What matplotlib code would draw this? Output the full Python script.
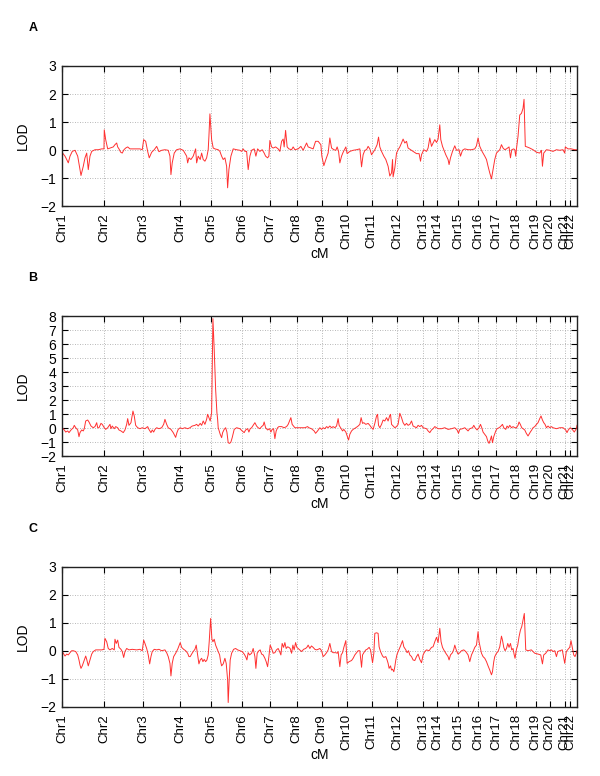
import matplotlib
matplotlib.use('Agg')
import matplotlib.pyplot as plt

# chromosome start positions along the genome (cM)
chr_names = ['Chr%d' % i for i in range(1, 23)]
chr_start = [0, 294, 569, 826, 1043, 1260, 1456, 1643, 1820, 1993, 2168,
             2347, 2529, 2627, 2774, 2914, 3043, 3183, 3318, 3416, 3521, 3561]
genome_end = 3607

# (genome cM, LOD)
lod_a = [(0, -0.08), (21, -0.22), (33, -0.34), (44, -0.46), (56, -0.22), (72, -0.05),
         (91, -0.01), (110, -0.22), (126, -0.70), (133, -0.91), (149, -0.58), (161, -0.28),
         (173, -0.11), (184, -0.70), (196, -0.22), (208, -0.05), (231, 0.01), (254, 0.01),
         (278, 0.04), (294, 0.04), (296, 0.72), (306, 0.37), (320, 0.04), (336, 0.07),
         (359, 0.11), (371, 0.19), (383, 0.25), (390, 0.11), (399, 0.04), (411, -0.08),
         (422, -0.11), (434, 0.01), (446, 0.07), (460, 0.11), (476, 0.04), (511, 0.04),
         (546, 0.04), (562, 0.01), (572, 0.37), (586, 0.31), (600, -0.05), (611, -0.28),
         (628, -0.08), (646, 0.01), (663, 0.13), (679, -0.06), (698, -0.01), (721, 0.01),
         (744, -0.01), (756, -0.22), (763, -0.88), (772, -0.46), (786, -0.11), (803, 0.01),
         (826, 0.04), (849, -0.01), (873, -0.22), (880, -0.46), (889, -0.28), (903, -0.34),
         (919, -0.22), (936, 0.04), (943, -0.46), (954, -0.22), (968, -0.34), (978, -0.11),
         (989, -0.34), (1001, -0.40), (1013, -0.28), (1024, 0.01), (1029, 0.49), (1036, 1.29),
         (1048, 0.37), (1059, 0.07), (1071, 0.04), (1094, 0.01), (1106, -0.05), (1118, -0.22),
         (1129, -0.34), (1141, -0.28), (1153, -0.58), (1160, -1.35), (1169, -0.70), (1183, -0.22),
         (1199, 0.04), (1223, 0.01), (1246, -0.01), (1258, -0.05), (1269, 0.04), (1281, -0.05),
         (1293, -0.05), (1304, -0.70), (1316, -0.22), (1328, -0.01), (1346, 0.04), (1358, -0.22),
         (1370, 0.04), (1386, -0.05), (1402, 0.01), (1416, -0.11), (1426, -0.22), (1440, -0.28),
         (1449, -0.22), (1456, 0.34), (1468, 0.11), (1479, 0.07), (1496, 0.11), (1514, 0.04),
         (1526, -0.05), (1538, 0.31), (1549, 0.39), (1556, 0.11), (1566, 0.70), (1577, 0.11),
         (1589, 0.04), (1608, 0.01), (1619, 0.11), (1631, 0.01), (1654, 0.04), (1673, 0.13),
         (1689, -0.01), (1713, 0.25), (1724, 0.11), (1743, 0.07), (1759, 0.04), (1776, 0.31),
         (1794, 0.31), (1813, 0.19), (1820, -0.22), (1834, -0.56), (1848, -0.34), (1864, -0.11),
         (1876, 0.43), (1888, 0.07), (1904, 0.01), (1918, -0.01), (1927, 0.11), (1937, -0.05),
         (1946, -0.46), (1958, -0.22), (1969, -0.08), (1988, 0.11), (1997, -0.13), (2016, -0.05),
         (2039, -0.01), (2063, 0.01), (2086, 0.04), (2098, -0.60), (2109, -0.17), (2121, -0.01),
         (2133, 0.01), (2144, 0.13), (2156, 0.04), (2168, -0.17), (2191, 0.01), (2207, 0.19),
         (2217, 0.46), (2226, 0.11), (2238, -0.05), (2254, -0.22), (2268, -0.34), (2284, -0.58),
         (2296, -0.93), (2308, -0.82), (2315, -0.34), (2319, -0.96), (2331, -0.64), (2343, -0.11),
         (2354, 0.01), (2366, 0.11), (2378, 0.25), (2389, 0.39), (2401, 0.25), (2413, 0.31),
         (2424, 0.07), (2441, 0.01), (2459, -0.05), (2483, -0.13), (2501, -0.13), (2511, -0.40),
         (2518, -0.17), (2534, 0.01), (2553, -0.05), (2564, 0.07), (2576, 0.43), (2588, 0.13),
         (2599, 0.25), (2611, 0.37), (2623, 0.27), (2634, 0.39), (2646, 0.90), (2653, 0.37),
         (2665, 0.13), (2674, 0.01), (2688, -0.17), (2704, -0.34), (2711, -0.52), (2721, -0.28),
         (2735, -0.05), (2751, 0.15), (2763, -0.01), (2781, 0.01), (2791, -0.22), (2805, -0.01),
         (2821, 0.04), (2844, 0.01), (2868, 0.01), (2891, 0.04), (2903, 0.15), (2914, 0.43),
         (2926, 0.13), (2942, -0.05), (2961, -0.22), (2973, -0.34), (2984, -0.58), (2996, -0.82),
         (3008, -1.03), (3019, -0.70), (3031, -0.34), (3043, -0.11), (3066, 0.01), (3078, 0.19),
         (3089, 0.07), (3101, 0.01), (3113, 0.04), (3131, 0.11), (3141, -0.28), (3150, 0.01),
         (3164, 0.04), (3171, 0.01), (3178, -0.22), (3183, 0.04), (3194, 0.49), (3206, 1.25),
         (3218, 1.31), (3229, 1.49), (3236, 1.81), (3245, 0.13), (3257, 0.11), (3276, 0.07),
         (3299, 0.01), (3323, -0.08), (3346, -0.11), (3358, -0.01), (3365, -0.58), (3374, -0.11),
         (3393, 0.01), (3416, -0.01), (3439, -0.05), (3463, 0.01), (3486, -0.01), (3509, 0.01),
         (3521, -0.11), (3525, 0.11), (3544, 0.04), (3567, 0.04), (3591, 0.01), (3607, 0.01)]

lod_b = [(2, 0.02), (16, -0.14), (26, -0.29), (40, -0.21), (49, -0.33), (63, -0.14),
         (79, 0.02), (86, 0.19), (96, 0.02), (110, -0.14), (119, -0.62), (126, -0.33),
         (138, -0.14), (149, -0.21), (156, -0.05), (166, 0.50), (180, 0.57), (189, 0.43),
         (203, 0.14), (219, 0.02), (231, 0.10), (243, 0.38), (250, 0.02), (259, 0.02),
         (273, 0.33), (282, 0.26), (296, 0.02), (306, -0.10), (320, 0.02), (336, 0.26),
         (343, -0.05), (352, 0.14), (366, -0.05), (376, 0.10), (390, 0.02), (399, -0.14),
         (413, -0.21), (429, -0.33), (441, -0.14), (453, 0.26), (460, 0.67), (469, 0.19),
         (483, 0.38), (497, 1.21), (506, 0.86), (516, 0.19), (530, 0.02), (546, -0.05),
         (562, 0.02), (581, -0.05), (600, 0.10), (609, -0.10), (623, -0.33), (632, -0.14),
         (642, -0.29), (651, -0.10), (663, 0.02), (679, -0.05), (698, 0.02), (712, 0.26),
         (721, 0.62), (733, 0.26), (744, 0.02), (763, -0.10), (779, -0.33), (796, -0.67),
         (805, -0.33), (814, -0.10), (828, 0.02), (842, -0.05), (861, 0.02), (880, -0.05),
         (896, 0.02), (912, 0.14), (931, 0.19), (943, 0.26), (954, 0.14), (968, 0.33),
         (978, 0.19), (989, 0.50), (1001, 0.26), (1013, 0.62), (1020, 0.98), (1029, 0.74),
         (1038, 0.50), (1048, 1.10), (1057, 7.81), (1066, 5.62), (1076, 2.76), (1085, 1.10),
         (1090, 0.62), (1094, 0.02), (1101, -0.21), (1108, -0.45), (1118, -0.69), (1125, -0.33),
         (1136, -0.10), (1146, 0.02), (1155, -0.29), (1164, -1.05), (1174, -1.10), (1183, -1.00),
         (1192, -0.69), (1206, -0.10), (1223, 0.02), (1246, -0.05), (1262, -0.21), (1276, -0.33),
         (1286, -0.14), (1300, -0.05), (1309, -0.29), (1318, -0.05), (1328, 0.02), (1339, 0.19),
         (1351, 0.38), (1363, 0.14), (1374, 0.02), (1386, -0.05), (1398, 0.10), (1409, 0.19),
         (1416, 0.43), (1426, 0.02), (1440, -0.14), (1454, -0.05), (1463, -0.29), (1472, -0.10),
         (1482, -0.05), (1491, -0.76), (1500, -0.21), (1510, 0.02), (1519, 0.10), (1538, 0.10),
         (1556, 0.02), (1573, 0.10), (1584, 0.26), (1596, 0.57), (1603, 0.74), (1612, 0.26),
         (1631, 0.02), (1654, 0.02), (1678, 0.02), (1701, 0.02), (1720, 0.10), (1729, 0.02),
         (1747, -0.05), (1766, -0.21), (1776, -0.38), (1790, -0.21), (1806, 0.02), (1818, -0.10),
         (1829, 0.02), (1841, -0.05), (1853, 0.10), (1864, 0.02), (1876, 0.14), (1888, 0.02),
         (1899, 0.10), (1911, 0.02), (1923, 0.14), (1934, 0.67), (1941, 0.19), (1951, 0.02),
         (1965, -0.21), (1974, -0.10), (1988, -0.29), (1997, -0.57), (2007, -0.86), (2016, -0.45),
         (2028, -0.21), (2039, -0.10), (2058, 0.02), (2074, 0.14), (2086, 0.26), (2095, 0.74),
         (2105, 0.33), (2114, 0.38), (2128, 0.26), (2144, 0.33), (2156, 0.19), (2168, 0.02),
         (2179, -0.10), (2191, 0.33), (2203, 0.86), (2210, 0.98), (2217, 0.19), (2226, 0.02),
         (2238, 0.26), (2249, 0.57), (2261, 0.50), (2273, 0.74), (2284, 0.50), (2296, 0.90),
         (2301, 0.98), (2308, 0.26), (2319, 0.14), (2331, 0.02), (2343, 0.10), (2354, 0.26),
         (2366, 1.05), (2378, 0.74), (2389, 0.38), (2401, 0.19), (2413, 0.33), (2424, 0.19),
         (2436, 0.26), (2448, 0.50), (2459, 0.14), (2483, 0.02), (2494, 0.19), (2506, 0.10),
         (2518, 0.19), (2529, 0.02), (2553, -0.05), (2564, -0.21), (2576, -0.33), (2588, -0.14),
         (2599, -0.05), (2611, 0.10), (2623, 0.02), (2634, -0.05), (2658, -0.05), (2681, 0.02),
         (2704, -0.10), (2728, -0.05), (2751, 0.02), (2767, -0.14), (2777, -0.38), (2786, -0.10),
         (2805, -0.05), (2821, 0.02), (2833, -0.10), (2844, -0.21), (2856, -0.05), (2875, 0.02),
         (2884, 0.19), (2893, 0.02), (2907, -0.14), (2921, 0.02), (2931, 0.26), (2940, 0.02),
         (2949, -0.29), (2961, -0.45), (2973, -0.62), (2982, -0.93), (2991, -1.10), (3001, -0.81),
         (3008, -0.57), (3015, -1.05), (3024, -0.62), (3038, -0.21), (3047, -0.05), (3061, 0.02),
         (3071, 0.10), (3085, 0.26), (3094, 0.02), (3108, -0.10), (3117, 0.14), (3127, 0.02),
         (3136, 0.19), (3148, 0.02), (3159, 0.10), (3171, 0.02), (3183, 0.02), (3194, 0.19),
         (3201, 0.43), (3210, 0.26), (3220, 0.02), (3229, -0.05), (3241, -0.14), (3252, -0.38),
         (3264, -0.57), (3271, -0.45), (3280, -0.29), (3290, -0.14), (3299, 0.02), (3311, 0.10),
         (3323, 0.26), (3334, 0.38), (3346, 0.67), (3355, 0.86), (3365, 0.57), (3374, 0.38),
         (3383, 0.26), (3393, 0.02), (3404, 0.14), (3416, 0.02), (3428, 0.10), (3439, 0.02),
         (3463, -0.05), (3486, 0.02), (3509, 0.02), (3528, -0.14), (3537, -0.33), (3546, -0.14),
         (3560, 0.02), (3574, -0.10), (3588, -0.29), (3602, -0.05), (3607, 0.19)]

lod_c = [(0, 0.01), (9, -0.08), (21, -0.18), (33, -0.11), (44, -0.14), (56, -0.06),
         (68, 0.01), (79, 0.01), (96, -0.02), (110, -0.14), (119, -0.32), (126, -0.50),
         (133, -0.62), (142, -0.53), (156, -0.32), (166, -0.18), (173, -0.30), (184, -0.53),
         (196, -0.32), (208, -0.11), (219, -0.02), (236, 0.04), (254, 0.04), (278, 0.04),
         (294, 0.06), (301, 0.45), (313, 0.33), (324, 0.09), (336, 0.04), (352, 0.09),
         (366, 0.04), (371, 0.42), (380, 0.27), (390, 0.39), (399, 0.13), (413, 0.06),
         (422, -0.02), (432, -0.23), (441, -0.02), (453, 0.09), (469, 0.04), (492, 0.06),
         (523, 0.04), (546, 0.06), (562, 0.01), (572, 0.39), (581, 0.27), (593, 0.09),
         (604, -0.14), (614, -0.46), (623, -0.20), (632, -0.02), (646, 0.06), (663, 0.04),
         (679, 0.06), (698, 0.01), (721, 0.04), (733, -0.06), (744, -0.20), (756, -0.44),
         (763, -0.89), (772, -0.44), (782, -0.20), (796, -0.08), (810, 0.06), (819, 0.18),
         (828, 0.30), (838, 0.13), (852, 0.06), (866, 0.01), (880, -0.08), (889, -0.20),
         (898, -0.20), (908, -0.11), (919, -0.02), (931, 0.06), (940, 0.21), (950, -0.14),
         (959, -0.46), (968, -0.32), (978, -0.26), (987, -0.38), (996, -0.30), (1006, -0.38),
         (1015, -0.32), (1024, -0.14), (1031, 0.33), (1041, 1.16), (1050, 0.42), (1057, 0.33),
         (1066, 0.42), (1076, 0.21), (1085, 0.09), (1094, -0.02), (1104, -0.14), (1111, -0.38),
         (1118, -0.53), (1129, -0.46), (1141, -0.26), (1150, -0.44), (1160, -1.03), (1164, -1.84),
         (1171, -1.03), (1178, -0.32), (1188, -0.08), (1202, 0.06), (1216, 0.09), (1230, 0.04),
         (1246, 0.01), (1262, -0.02), (1276, -0.11), (1286, -0.20), (1295, -0.32), (1304, -0.06),
         (1314, -0.14), (1328, -0.08), (1339, 0.09), (1351, -0.20), (1358, -0.62), (1367, -0.08),
         (1379, 0.01), (1388, 0.04), (1398, -0.11), (1409, -0.14), (1421, -0.26), (1430, -0.38),
         (1440, -0.56), (1449, -0.20), (1458, 0.21), (1468, 0.09), (1479, -0.08), (1491, -0.06),
         (1502, 0.04), (1514, 0.09), (1524, -0.02), (1533, -0.14), (1542, 0.27), (1552, 0.13),
         (1561, 0.30), (1570, 0.09), (1580, 0.15), (1589, 0.13), (1598, 0.09), (1608, -0.08),
         (1617, 0.21), (1626, 0.04), (1636, 0.30), (1645, 0.13), (1654, 0.09), (1666, 0.04),
         (1678, -0.02), (1692, 0.06), (1706, 0.09), (1715, 0.13), (1724, 0.21), (1736, 0.09),
         (1747, 0.18), (1759, 0.13), (1771, 0.06), (1783, 0.04), (1794, 0.06), (1806, 0.09),
         (1818, 0.01), (1829, -0.20), (1841, -0.14), (1853, -0.06), (1864, 0.04), (1876, 0.27),
         (1888, -0.02), (1899, -0.06), (1918, -0.06), (1927, -0.08), (1934, -0.02), (1946, -0.56),
         (1955, -0.14), (1965, -0.06), (1974, 0.13), (1988, 0.37), (1997, -0.44), (2011, -0.38),
         (2028, -0.34), (2039, -0.26), (2051, -0.14), (2063, -0.06), (2074, 0.01), (2086, 0.01),
         (2098, -0.58), (2105, -0.14), (2114, -0.06), (2128, 0.04), (2137, 0.06), (2151, 0.13),
         (2161, 0.04), (2168, -0.18), (2175, -0.42), (2184, -0.08), (2191, 0.63), (2203, 0.65),
         (2214, 0.63), (2221, 0.15), (2231, -0.02), (2245, -0.18), (2254, -0.23), (2268, -0.20),
         (2277, -0.32), (2284, -0.44), (2291, -0.62), (2301, -0.53), (2308, -0.68), (2315, -0.65),
         (2324, -0.74), (2331, -0.56), (2338, -0.32), (2347, -0.11), (2361, 0.06), (2371, 0.18),
         (2385, 0.37), (2394, 0.15), (2408, 0.04), (2417, -0.06), (2427, 0.01), (2436, -0.14),
         (2448, -0.20), (2459, -0.32), (2471, -0.34), (2483, -0.20), (2494, -0.11), (2506, -0.30),
         (2518, -0.42), (2529, -0.14), (2541, -0.02), (2553, 0.04), (2571, 0.01), (2588, 0.13),
         (2599, 0.15), (2611, 0.33), (2623, 0.49), (2634, 0.30), (2646, 0.81), (2655, 0.33),
         (2665, 0.13), (2674, 0.04), (2688, -0.08), (2704, -0.20), (2711, -0.32), (2721, -0.14),
         (2735, -0.06), (2744, 0.06), (2751, 0.21), (2763, 0.01), (2774, -0.11), (2786, -0.06),
         (2798, 0.01), (2814, 0.04), (2828, -0.02), (2844, -0.14), (2856, -0.38), (2868, -0.14),
         (2879, -0.02), (2891, 0.13), (2903, 0.21), (2914, 0.69), (2921, 0.33), (2931, 0.09),
         (2938, -0.08), (2949, -0.20), (2961, -0.26), (2973, -0.38), (2984, -0.53), (2996, -0.68),
         (3008, -0.85), (3015, -0.74), (3024, -0.38), (3031, -0.20), (3043, -0.08), (3054, -0.02),
         (3066, 0.15), (3078, 0.53), (3085, 0.39), (3094, 0.13), (3103, 0.01), (3113, 0.09),
         (3122, 0.27), (3131, 0.13), (3141, 0.27), (3150, 0.04), (3159, 0.09), (3166, -0.11),
         (3173, -0.26), (3183, 0.06), (3192, 0.21), (3201, 0.51), (3211, 0.75), (3220, 0.87),
         (3229, 1.10), (3238, 1.34), (3248, 0.04), (3264, 0.01), (3287, 0.04), (3311, -0.08),
         (3334, -0.11), (3353, -0.14), (3365, -0.46), (3374, -0.14), (3388, -0.08), (3404, 0.04),
         (3416, 0.01), (3428, 0.04), (3439, -0.02), (3451, 0.01), (3463, -0.20), (3472, -0.02),
         (3486, 0.01), (3504, 0.04), (3521, -0.44), (3532, -0.02), (3544, 0.06), (3556, 0.13),
         (3565, 0.37), (3574, 0.13), (3584, -0.14), (3593, -0.20), (3602, -0.08), (3607, 0.01)]

panel_names = ['A', 'B', 'C']
panel_ymax = [3, 8, 3]
panel_data = [lod_a, lod_b, lod_c]

plt.rcParams['font.family'] = ['Liberation Sans', 'DejaVu Sans']

W, H = 600, 776
left, width, height = 62, 515, 140
tops = [66, 316, 567]

fig = plt.figure(figsize=(W / 100, H / 100), dpi=100)
for name, data, ymax, top in zip(panel_names, panel_data, panel_ymax, tops):
    ax = fig.add_axes([left / W, 1 - (top + height) / H, width / W, height / H])
    x, y = zip(*data)
    ax.plot(x, y, color='#ff3030', lw=0.7)
    ax.set_xlim(0, genome_end)
    ax.set_ylim(-2, ymax)
    ax.set_yticks(range(-2, ymax + 1))
    ax.set_xticks(chr_start)
    ax.set_xticklabels(chr_names, rotation=90)
    ax.grid(True, color='#a0a0a0', linestyle=(0, (1, 2)), linewidth=0.6)
    ax.tick_params(direction='in', top=True, right=True, length=4,
                   width=0.8, labelsize=10, pad=4)
    ax.tick_params(axis='x', labelsize=9.5, pad=5)
    for sp in ax.spines.values():
        sp.set_linewidth(1.0)
        sp.set_color('#222222')
    ax.set_xlabel('cM', fontsize=10)
    ax.xaxis.set_label_coords(0.5, -41 / height)
    ax.set_ylabel('LOD', fontsize=10)
    ax.yaxis.set_label_coords(-32 / width, 0.5)
    fig.text(33 / W, 1 - (top - 38) / H, name, fontsize=9, fontweight='bold',
             ha='center', va='center')

fig.savefig('out.png', dpi=100)
